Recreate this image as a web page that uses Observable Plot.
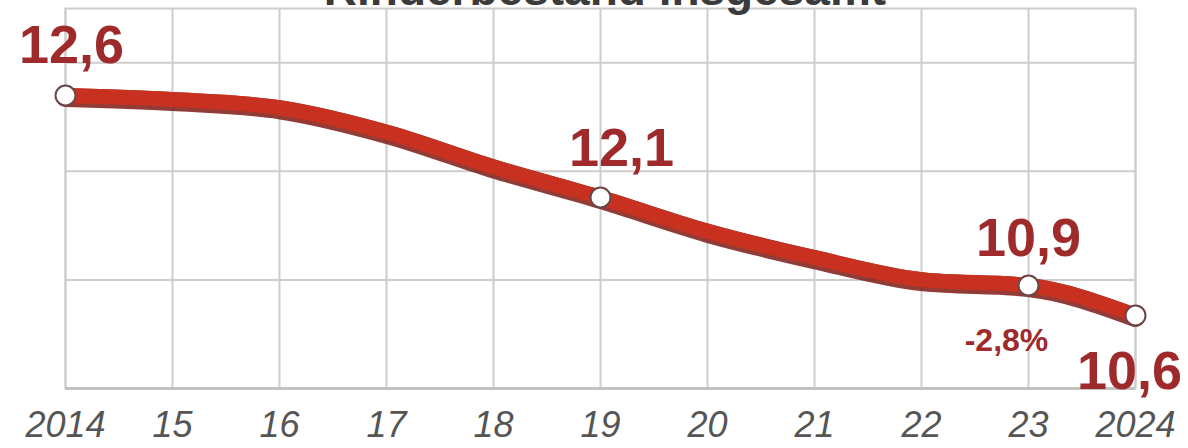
<!DOCTYPE html>
<html>
<head>
<meta charset="utf-8">
<script src="https://cdn.jsdelivr.net/npm/d3@7"></script>
<script src="https://cdn.jsdelivr.net/npm/@observablehq/plot@0.6"></script>
<style>
  html, body { margin: 0; padding: 0; background: #fff; overflow: hidden; }
  #wrap { position: relative; width: 1188px; height: 448px; overflow: hidden; background: #fff; }
  #wrap svg { position: absolute; left: 0; top: 0; }
  #title { position: absolute; left: 0; top: -34px; width: 1188px; box-sizing: border-box; padding-left: 22px;
           text-align: center; font: bold 46px "Liberation Sans", Arial, sans-serif; line-height: 46px;
           color: #3b3b3b; z-index: 2; }
</style>
</head>
<body>
<div id="wrap"><div id="title">Rinderbestand insgesamt</div></div>
<script>
// ---- data ----
const years = [2014, 2015, 2016, 2017, 2018, 2019, 2020, 2021, 2022, 2023, 2024];
const values = [12.6, 12.58, 12.54, 12.42, 12.25, 12.1, 11.64, 11.28, 10.98, 10.9, 10.6];
const tickLabels = ["2014", "15", "16", "17", "18", "19", "20", "21", "22", "23", "2024"];
const labelYears = [2014, 2019, 2023, 2024];
const labelTexts = ["12,6", "12,1", "10,9", "10,6"];
const changeYear = 2023;
const changeText = "-2,8%";
const gridValues = [11, 12, 13];

const data = years.map((year, i) => ({year, value: values[i]}));
const labelled = labelYears.map((year, i) => ({year, value: values[years.indexOf(year)], text: labelTexts[i]}));
const change = [{year: changeYear, value: values[years.indexOf(changeYear)], text: changeText}];

const W = 1188, H = 448;
const frame = {width: W, height: H, marginLeft: 65, marginRight: 53, marginTop: 8, marginBottom: 60};
const font = "Liberation Sans, Arial, sans-serif";
const labelRed = "#9f2a2c";

// background grid + axis
const grid = Plot.plot({
  ...frame,
  style: {background: "transparent", color: "#555", fontFamily: font},
  x: {type: "linear", domain: [years[0], years[years.length - 1]]},
  y: {type: "linear", domain: [10, 13.5], axis: null},
  marks: [
    Plot.ruleX(years, {stroke: "#cdcdcd", strokeWidth: 2}),
    Plot.ruleY(gridValues, {stroke: "#cdcdcd", strokeWidth: 2}),
    Plot.frame({stroke: "#cdcdcd", strokeWidth: 2}),
    Plot.ruleY([10], {stroke: "#c2c2c2", strokeWidth: 3}),
    Plot.axisX(years, {
      tickSize: 0, tickPadding: 23,
      tickFormat: d => tickLabels[years.indexOf(d)],
      fontSize: 36, fontStyle: "italic", fontFamily: font, fill: "#555"
    })
  ]
});

// line, dots, labels
const chart = Plot.plot({
  ...frame,
  style: {background: "transparent", fontFamily: font},
  x: {type: "linear", domain: [years[0], years[years.length - 1]], axis: null},
  y: {type: "linear", domain: [10.6, 10.9, 12.1, 12.6], range: [315, 285, 197, 95], axis: null},
  marks: [
    Plot.line(data, {x: "year", y: "value", curve: "monotone-x", stroke: "#7e1a14", strokeWidth: 19, dy: 2, strokeOpacity: 0.85}),
    Plot.line(data, {x: "year", y: "value", curve: "monotone-x", stroke: "#c8311f", strokeWidth: 15}),
    Plot.dot(labelled, {x: "year", y: "value", r: 10, fill: "#fff", stroke: "#6b4747", strokeWidth: 2}),
    Plot.text(labelled.filter(d => d.year === 2014), {x: "year", y: "value", text: "text", dx: 6, dy: -33, lineAnchor: "bottom", fontSize: 54, fontWeight: "bold", fill: labelRed}),
    Plot.text(labelled.filter(d => d.year === 2019), {x: "year", y: "value", text: "text", dx: 21, dy: -32, lineAnchor: "bottom", fontSize: 54, fontWeight: "bold", fill: labelRed}),
    Plot.text(labelled.filter(d => d.year === 2023), {x: "year", y: "value", text: "text", dx: 0, dy: -30, lineAnchor: "bottom", fontSize: 54, fontWeight: "bold", fill: labelRed}),
    Plot.text(labelled.filter(d => d.year === 2024), {x: "year", y: "value", text: "text", dx: -6, dy: 73, lineAnchor: "bottom", fontSize: 54, fontWeight: "bold", fill: labelRed}),
    Plot.text(change, {x: "year", y: "value", text: "text", dx: -22, dy: 65, lineAnchor: "bottom", fontSize: 32, fontWeight: "bold", fill: labelRed})
  ]
});

const wrap = document.getElementById("wrap");
wrap.appendChild(grid);
wrap.appendChild(chart);
</script>
</body>
</html>
